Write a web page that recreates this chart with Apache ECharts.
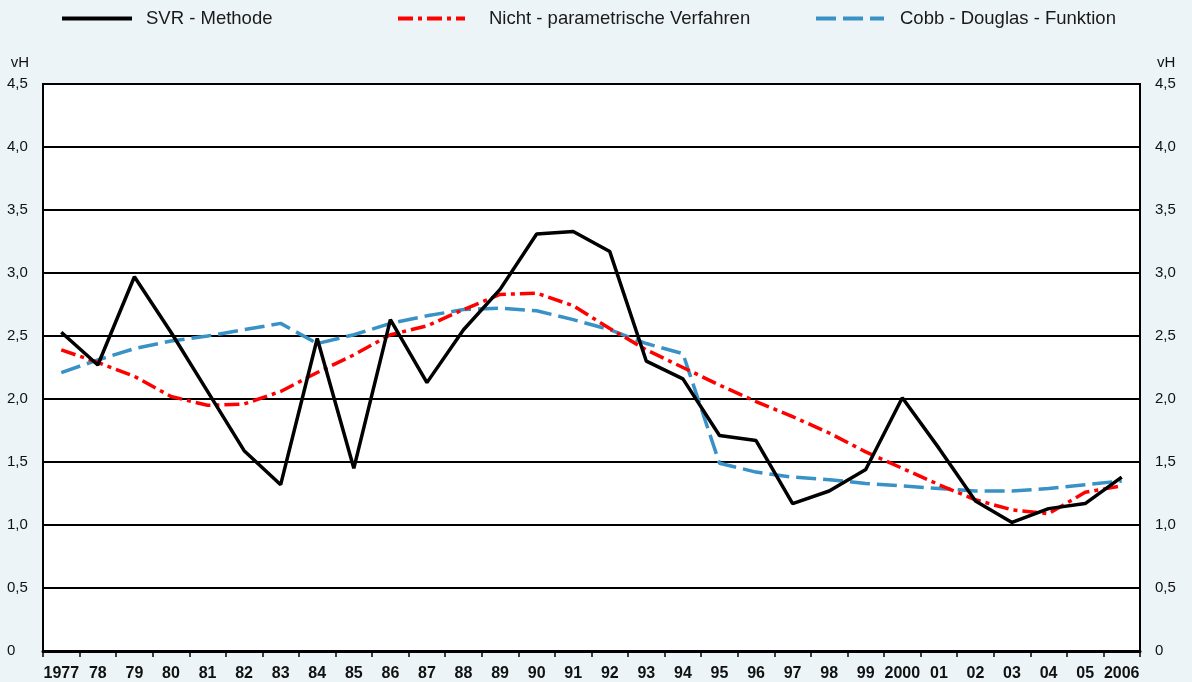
<!DOCTYPE html>
<html>
<head>
<meta charset="utf-8">
<script src="https://cdn.jsdelivr.net/npm/echarts@6/dist/echarts.min.js"></script>
<style>
html,body{margin:0;padding:0;background:#ecf4f8;}
#c{width:1192px;height:682px;}
</style>
</head>
<body>
<div id="c"></div>
<script>
const years = ['1977','78','79','80','81','82','83','84','85','86','87','88','89','90','91','92','93','94','95','96','97','98','99','2000','01','02','03','04','05','2006'];
const svr = [2.53,2.27,2.97,2.53,2.06,1.59,1.32,2.48,1.45,2.63,2.13,2.55,2.87,3.31,3.33,3.17,2.30,2.16,1.71,1.67,1.17,1.27,1.44,2.01,1.61,1.19,1.02,1.13,1.17,1.38];
const nichtParam = [2.39,2.29,2.18,2.02,1.95,1.96,2.06,2.21,2.35,2.51,2.58,2.71,2.83,2.84,2.74,2.56,2.39,2.25,2.11,1.98,1.86,1.73,1.58,1.45,1.32,1.20,1.12,1.09,1.26,1.31];
const cobbDouglas = [2.21,2.31,2.40,2.46,2.50,2.55,2.60,2.44,2.51,2.60,2.66,2.71,2.72,2.70,2.63,2.55,2.44,2.36,1.49,1.42,1.38,1.36,1.33,1.31,1.29,1.27,1.27,1.29,1.32,1.35];
const seriesNames = ['SVR - Methode','Nicht - parametrische Verfahren','Cobb - Douglas - Funktion'];

const FONT = 'Liberation Sans, Arial, Helvetica, sans-serif';
const fmt = v => v === 0 ? '0' : v.toFixed(1).replace('.', ',');

const chart = echarts.init(document.getElementById('c'), null, {renderer:'canvas'});
function legendAt(left, name, w, gap) {
  return {
    left: left, top: 9, padding: 0, itemWidth: w, itemHeight: 16,
    itemStyle: {opacity: 0},
    lineStyle: {width: 4},
    textStyle: {fontFamily: FONT, fontSize: 18.5, color: '#1a1a1a', padding: [0,0,0,gap]},
    selectedMode: false,
    data: [name]
  };
}
chart.setOption({
  backgroundColor: '#ecf4f8',
  animation: false,
  legend: [
    legendAt(60, seriesNames[0], 70, 9),
    legendAt(396, seriesNames[1], 67, 19),
    legendAt(814, seriesNames[2], 68, 11)
  ],
  grid: {left: 43, right: 52, top: 84, bottom: 31, show: true, backgroundColor: '#ffffff', borderColor: '#000', borderWidth: 2},
  xAxis: {
    type: 'category', data: years, boundaryGap: true,
    axisLine: {lineStyle: {color: '#000', width: 3}},
    axisTick: {show: true, length: 6, lineStyle: {color: '#000', width: 1.5}},
    axisLabel: {fontFamily: FONT, fontSize: 16, fontWeight: 'bold', color: '#111', margin: 15, interval: 0}
  },
  yAxis: [
    {
      type: 'value', min: 0, max: 4.5, interval: 0.5, position: 'left',
      name: 'vH', nameLocation: 'end', nameGap: 14,
      nameTextStyle: {fontFamily: FONT, fontSize: 15, color: '#111', align: 'right', padding: [0,14,0,0]},
      axisLine: {show: true, lineStyle: {color: '#000', width: 2}},
      axisTick: {show: false},
      splitLine: {show: true, lineStyle: {color: '#000', width: 2}},
      axisLabel: {fontFamily: FONT, fontSize: 15, color: '#111', align: 'left', margin: 36, formatter: fmt}
    },
    {
      type: 'value', min: 0, max: 4.5, interval: 0.5, position: 'right',
      name: 'vH', nameLocation: 'end', nameGap: 14,
      nameTextStyle: {fontFamily: FONT, fontSize: 15, color: '#111', align: 'left', padding: [0,0,0,17]},
      axisLine: {show: true, lineStyle: {color: '#000', width: 2}},
      axisTick: {show: false},
      splitLine: {show: false},
      axisLabel: {fontFamily: FONT, fontSize: 15, color: '#111', align: 'left', margin: 15, formatter: fmt}
    }
  ],
  series: [
    {name: seriesNames[2], type: 'line', data: cobbDouglas, symbol: 'none', z: 3,
     lineStyle: {color: '#3892c5', width: 3.5, type: [20, 7]}, itemStyle: {color: '#3892c5'}},
    {name: seriesNames[1], type: 'line', data: nichtParam, symbol: 'none', z: 4,
     lineStyle: {color: '#ff0000', width: 3.5, type: [15, 5, 4, 5]}, itemStyle: {color: '#ff0000'}},
    {name: seriesNames[0], type: 'line', data: svr, symbol: 'none', z: 5,
     lineStyle: {color: '#000000', width: 3.5, type: 'solid'}, itemStyle: {color: '#000'}}
  ]
});
</script>
</body>
</html>
